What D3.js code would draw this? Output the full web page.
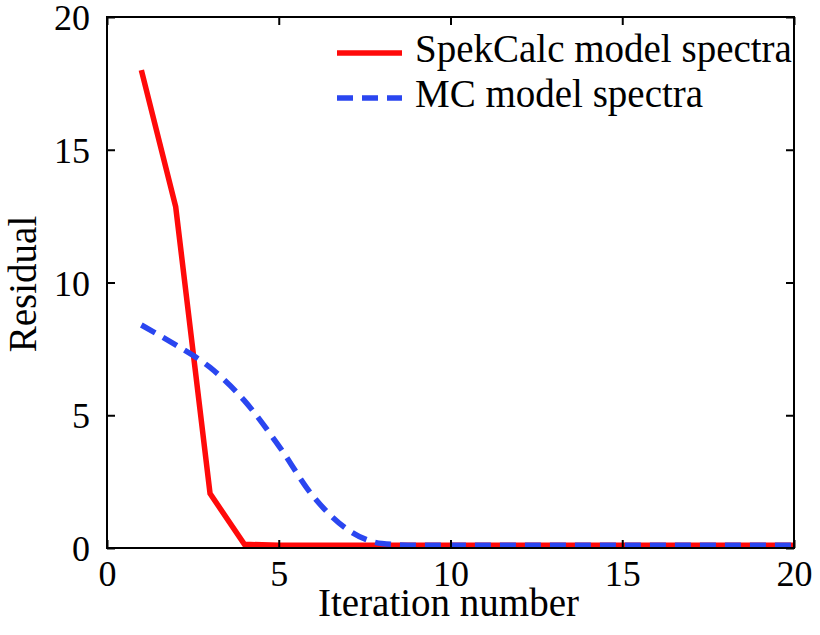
<!DOCTYPE html>
<html><head><meta charset="utf-8">
<script src="https://cdn.jsdelivr.net/npm/d3@7"></script>
<style>body{margin:0;background:#fff}</style>
</head><body>
<svg id="c" width="820" height="635"></svg>
<script>
const iterations = [1,2,3,4,5,6,7,8,9,10,11,12,13,14,15,16,17,18,19,20];
const spekCalc = [18.0,12.85,2.05,0.14,0.1,0.1,0.1,0.1,0.1,0.1,0.1,0.1,0.1,0.1,0.1,0.1,0.1,0.1,0.1,0.1];
const mcModel = [8.4,7.65,6.8,5.55,3.85,1.95,0.7,0.17,0.1,0.1,0.1,0.1,0.1,0.1,0.1,0.1,0.1,0.1,0.1,0.1];
const xTicks = [0,5,10,15,20];
const yTicks = [0,5,10,15,20];
const seriesNames = ["SpekCalc model spectra","MC model spectra"];

const svg = d3.select("#c");
const L=107,R=794,T=17,B=548;
const x = d3.scaleLinear().domain([0,20]).range([L,R]);
const y = d3.scaleLinear().domain([0,20]).range([B,T]);
const font = "'Liberation Serif','Times New Roman',serif";

// lines
const line = d3.line().x((d,i)=>x(iterations[i])).y(d=>y(d));
const gPlot = svg.append("g");
gPlot.append("path").datum(spekCalc).attr("d",line)
  .attr("fill","none").attr("stroke","#ff0a0a").attr("stroke-width",5.5).attr("stroke-linejoin","miter");
gPlot.append("path").datum(mcModel).attr("d",line.curve(d3.curveMonotoneX))
  .attr("fill","none").attr("stroke","#2a46f0").attr("stroke-width",5.5).attr("stroke-dasharray","16,9");

// box & axes
svg.append("rect").attr("x",L).attr("y",T).attr("width",R-L).attr("height",B-T)
  .attr("fill","none").attr("stroke","#000").attr("stroke-width",2);

const xb = svg.append("g").attr("transform",`translate(0,${B})`)
  .call(d3.axisBottom(x).tickValues(xTicks).tickSize(-8).tickPadding(12).tickFormat(d3.format("d")));
const xt = svg.append("g").attr("transform",`translate(0,${T})`)
  .call(d3.axisTop(x).tickValues(xTicks).tickSize(-8).tickFormat(""));
const yl = svg.append("g").attr("transform",`translate(${L},0)`)
  .call(d3.axisLeft(y).tickValues(yTicks).tickSize(-8).tickPadding(17).tickFormat(d3.format("d")));
const yr = svg.append("g").attr("transform",`translate(${R},0)`)
  .call(d3.axisRight(y).tickValues(yTicks).tickSize(-8).tickFormat(""));
[xb,xt,yl,yr].forEach(g=>{
  g.select(".domain").remove();
  g.selectAll(".tick line").attr("stroke","#000").attr("stroke-width",2);
  g.selectAll("text").attr("font-family",font).attr("font-size",36).attr("fill","#000");
});
xb.selectAll("text").attr("dy","0.71em");
yl.selectAll("text").attr("dy","0.35em");

// axis labels
svg.append("text").attr("x",(L+R)/2-2).attr("y",616).attr("text-anchor","middle")
  .attr("font-family",font).attr("font-size",39).text("Iteration number");
svg.append("text").attr("transform","translate(36,284) rotate(-90)").attr("text-anchor","middle")
  .attr("font-family",font).attr("font-size",39).text("Residual");

// legend
const leg = svg.append("g");
const legColors = ["#ff0a0a","#2a46f0"];
const legDash = [null,"16,9"];
seriesNames.forEach((n,i)=>{
  const yy = 53 + i*45;
  leg.append("line").attr("x1",337).attr("x2",402).attr("y1",yy).attr("y2",yy)
    .attr("stroke",legColors[i]).attr("stroke-width",5.5).attr("stroke-dasharray",legDash[i]);
  leg.append("text").attr("x",415).attr("y",yy+9).attr("font-family",font).attr("font-size",39).text(n);
});
</script>
</body></html>
